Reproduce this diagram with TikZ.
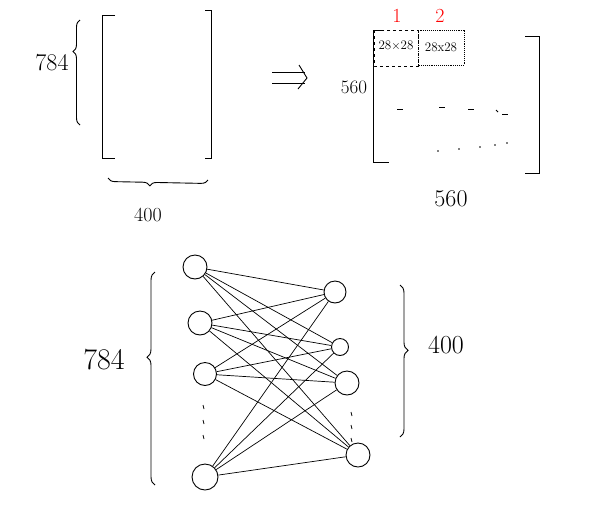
\documentclass[tikz,border=0pt]{standalone}
\usetikzlibrary{decorations.pathreplacing}
\begin{document}
\begin{tikzpicture}[x=1pt,y=-1pt,
  ink/.style={draw=black,line width=0.9pt},
  neuron/.style={circle,draw=black,line width=0.9pt,fill=white,inner sep=0pt},
  hand/.style={inner sep=0pt},
  bigbrace/.style={ink,decorate,decoration={brace,amplitude=7pt}},
  edge/.style={draw=black,line width=0.7pt}]
\useasboundingbox (0,0) rectangle (615,504);
\fill[white] (0,0) rectangle (615,504);

% ---------- top left matrix ----------
\draw[ink] (115,15) -- (102,15) -- (102,158) -- (115,158);
\draw[ink] (205,10) -- (211,10) -- (211,158) -- (205,158);
\coordinate (bl1) at (80,125);
\coordinate (bl2) at (80,20);
\draw[bigbrace,decoration={aspect=0.7}] (bl1) -- (bl2);
\node[hand,font=\fontsize{24}{24}\selectfont] (t784) at (52,63) {784};
\coordinate (bb1) at (208,180);
\coordinate (bb2) at (108,178);
\draw[bigbrace,decoration={aspect=0.58}] (bb1) -- (bb2);
\node[hand,font=\fontsize{20}{20}\selectfont] (t400) at (148,215) {400};

% ---------- implies arrow ----------
\draw[ink] (272,72) -- (305,72);
\draw[ink] (272,83) -- (305,83);
\draw[ink] (299,65) -- (307,78) -- (298,89);

% ---------- right matrix ----------
\draw[ink] (384,30) -- (373,30) -- (373,162) -- (389,162);
\draw[ink] (525,36) -- (539,36) -- (539,173) -- (525,173);
\draw[ink,dashed,line width=0.7pt] (374,30) rectangle (418,66);
\draw[ink,densely dotted,line width=0.8pt] (418,30) rectangle (464,65);
\node[hand,font=\fontsize{13}{13}\selectfont] (c1) at (396,46) {28$\times$28};
\node[hand,font=\fontsize{13}{13}\selectfont] (c2) at (441,47) {28x28};
\node[hand,red,font=\fontsize{20}{20}\selectfont] (n1) at (397,16) {1};
\node[hand,red,font=\fontsize{20}{20}\selectfont] (n2) at (440,16) {2};
\node[hand,font=\fontsize{19}{19}\selectfont] (s560a) at (354,87) {560};
\node[hand,font=\fontsize{24}{24}\selectfont] (s560b) at (451,199) {560};
% placeholder dashes
\foreach \x/\y in {400/109,442/107,471/109,505/114} \draw[ink,line width=0.8pt] (\x-3,\y) -- (\x+3,\y);
\draw[ink,line width=0.8pt] (496,110) -- (498,112);
\foreach \x/\y in {438/151,459/149,480/147,495/145,507/143} \fill (\x,\y) circle (0.9);

% ---------- network ----------
\node[neuron,minimum size=24pt] (a1) at (195,267) {};
\node[neuron,minimum size=24pt] (a2) at (200,323) {};
\node[neuron,minimum size=23pt] (a3) at (205,374) {};
\node[neuron,minimum size=26pt] (a4) at (205,477) {};
\node[neuron,minimum size=22pt] (b1) at (335,292) {};
\node[neuron,minimum size=17pt] (b2) at (340,347) {};
\node[neuron,minimum size=24pt] (b3) at (347,383) {};
\node[neuron,minimum size=24pt] (b4) at (358,455) {};
\foreach \i in {a1,a2,a3,a4}
  \foreach \j in {b1,b2,b3,b4}
    \draw[edge] (\i) -- (\j);
\foreach \y in {405,420,435} \draw[ink,line width=0.8pt] (203,\y) -- (204,\y+4);
\foreach \y in {412,425,438} \draw[ink,line width=0.8pt] (351,\y) -- (352,\y+4);

\coordinate (nl1) at (155,485);
\coordinate (nl2) at (155,272);
\draw[bigbrace,decoration={aspect=0.6,amplitude=8pt}] (nl1) -- (nl2);
\node[hand,font=\fontsize{30}{30}\selectfont] (m784) at (104,360) {784};
\coordinate (nr1) at (400,285);
\coordinate (nr2) at (400,437);
\draw[bigbrace,decoration={aspect=0.43,amplitude=8pt}] (nr1) -- (nr2);
\node[hand,font=\fontsize{26}{26}\selectfont] (m400) at (446,345) {400};
\end{tikzpicture}
\end{document}
